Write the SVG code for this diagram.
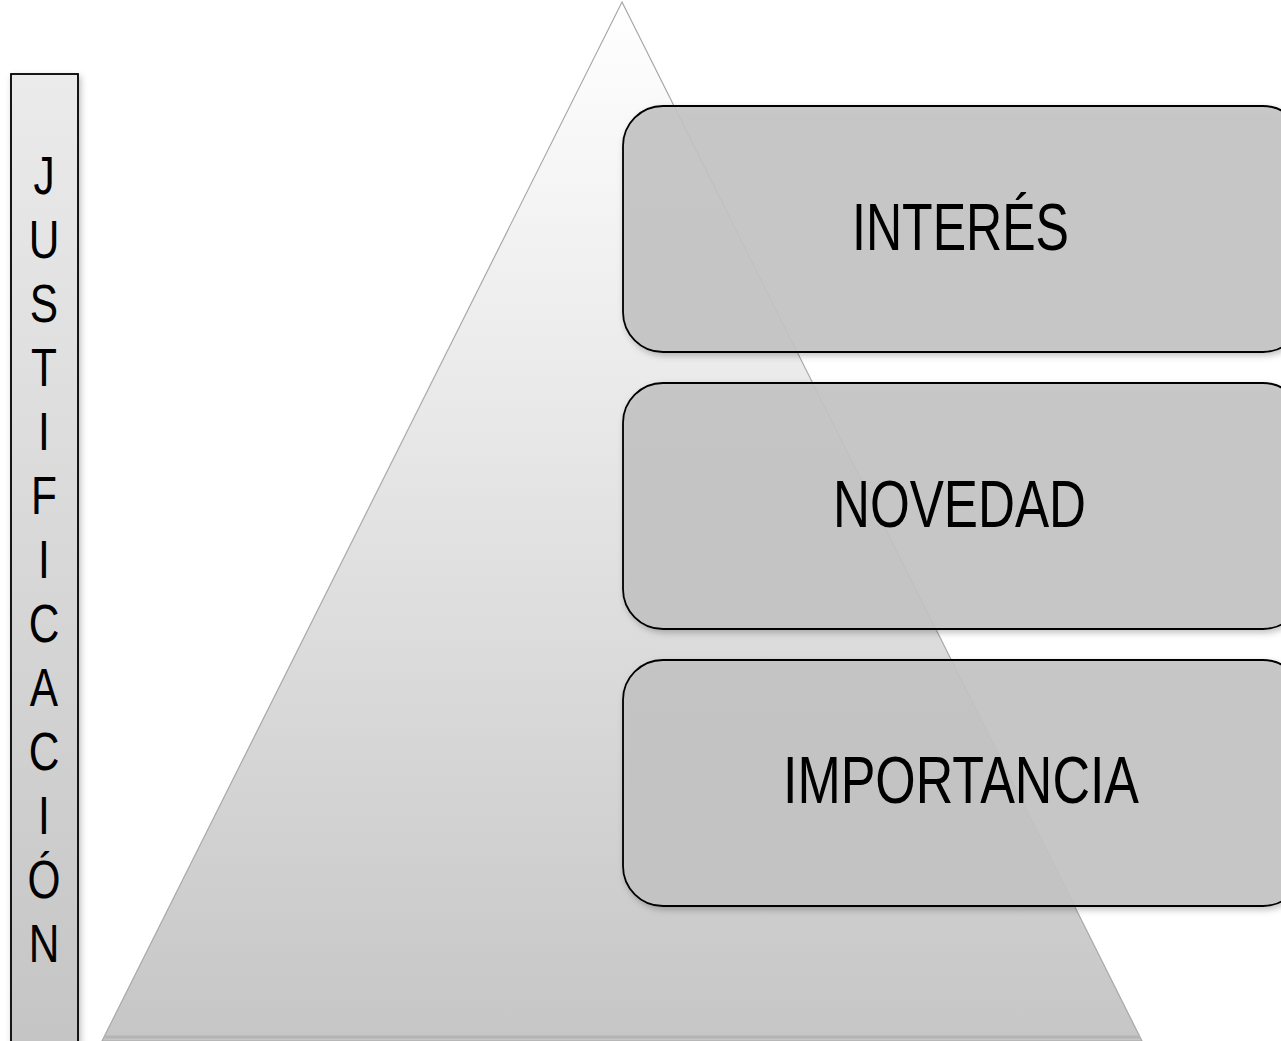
<svg xmlns="http://www.w3.org/2000/svg" width="1281" height="1041" viewBox="0 0 1281 1041">
  <defs>
    <linearGradient id="triGrad" x1="0" y1="0" x2="0" y2="1">
      <stop offset="0" stop-color="#ffffff"/>
      <stop offset="1" stop-color="#c6c6c6"/>
    </linearGradient>
    <linearGradient id="barGrad" x1="0" y1="0" x2="0" y2="1">
      <stop offset="0" stop-color="#ebebeb"/>
      <stop offset="1" stop-color="#c4c4c4"/>
    </linearGradient>
    <filter id="shadow" x="-10%" y="-10%" width="130%" height="130%">
      <feDropShadow dx="2" dy="3" stdDeviation="3" flood-color="#000" flood-opacity="0.25"/>
    </filter>
  </defs>
  <style>
    .box { fill: #c4c4c4; fill-opacity: 0.9; stroke: #000; stroke-width: 1.8; }
    .label { font-family: "Liberation Sans", Arial, sans-serif; font-size: 66px; fill: #000; text-anchor: start; }
    .letter { font-family: "Liberation Sans", Arial, sans-serif; font-size: 53px; fill: #000; text-anchor: middle; }
  </style>
  <rect width="1281" height="1041" fill="#ffffff"/>

  <g id="pyramid">
    <polygon points="622,2 1142,1041 102,1041" fill="url(#triGrad)" stroke="#a8a8a8" stroke-width="1.2"/>
    <line x1="104" y1="1037" x2="1140" y2="1037" stroke="#b4b4b4" stroke-width="3"/>
  </g>

  <g id="justificacion" filter="url(#shadow)">
    <rect x="11" y="74" width="67" height="990" fill="url(#barGrad)" stroke="#000" stroke-width="1.8"/>
  </g>
  <g id="justificacion-text">
    <g transform="translate(44,0) scale(0.8,1)">
      <text class="letter" x="0" y="194">J</text>
      <text class="letter" x="0" y="258">U</text>
      <text class="letter" x="0" y="322">S</text>
      <text class="letter" x="0" y="386">T</text>
      <text class="letter" x="0" y="450">I</text>
      <text class="letter" x="0" y="514">F</text>
      <text class="letter" x="0" y="578">I</text>
      <text class="letter" x="0" y="642">C</text>
      <text class="letter" x="0" y="706">A</text>
      <text class="letter" x="0" y="770">C</text>
      <text class="letter" x="0" y="834">I</text>
      <text class="letter" x="0" y="898">Ó</text>
      <text class="letter" x="0" y="962">N</text>
    </g>
  </g>

  <g id="interes" filter="url(#shadow)">
    <rect class="box" x="623" y="106" width="680" height="246" rx="40" ry="40"/>
    <text class="label" x="852" y="250" textLength="217" lengthAdjust="spacingAndGlyphs">INTERÉS</text>
  </g>
  <g id="novedad" filter="url(#shadow)">
    <rect class="box" x="623" y="383" width="680" height="246" rx="40" ry="40"/>
    <text class="label" x="833" y="527" textLength="253" lengthAdjust="spacingAndGlyphs">NOVEDAD</text>
  </g>
  <g id="importancia" filter="url(#shadow)">
    <rect class="box" x="623" y="660" width="680" height="246" rx="40" ry="40"/>
    <text class="label" x="783" y="803" textLength="356" lengthAdjust="spacingAndGlyphs">IMPORTANCIA</text>
  </g>

  <g id="connectors"/>
</svg>
